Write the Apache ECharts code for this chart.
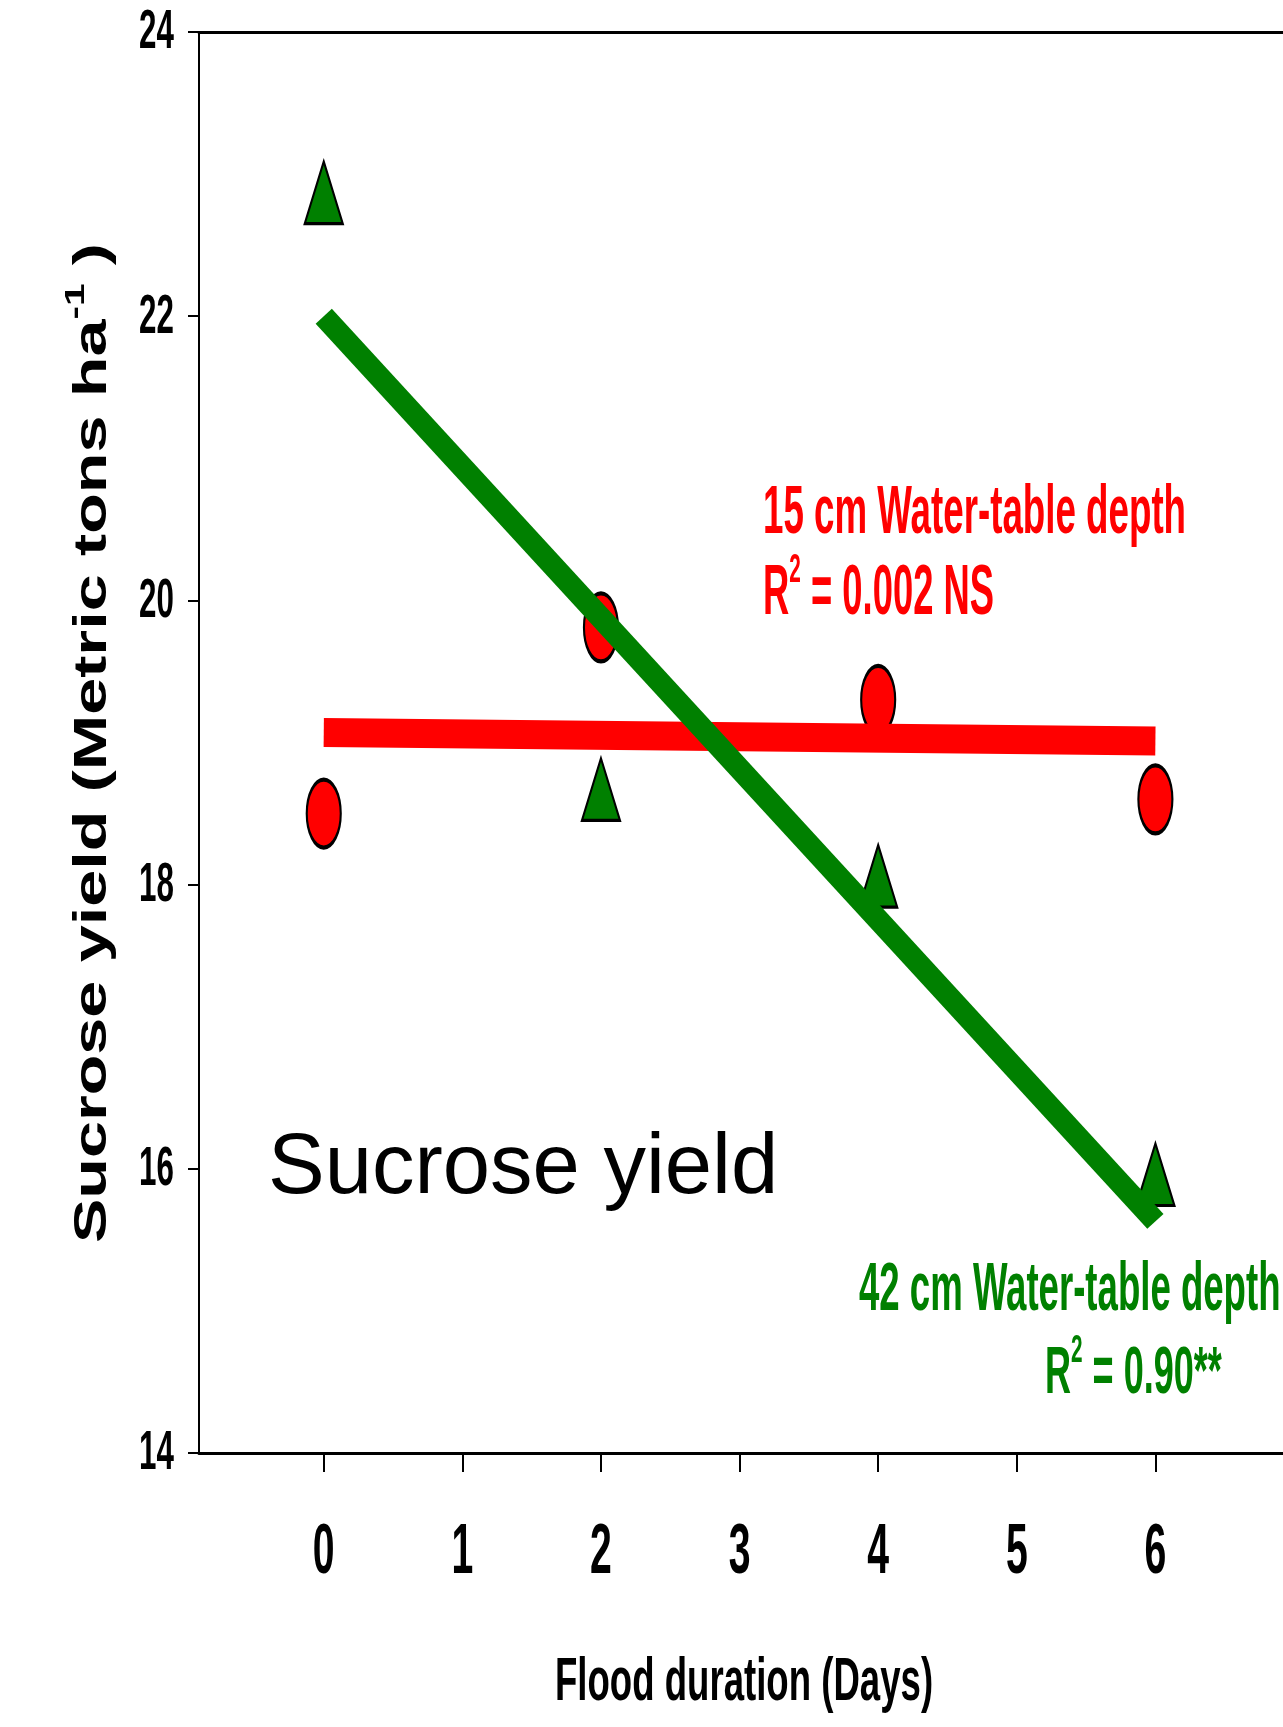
<!DOCTYPE html>
<html>
<head>
<meta charset="utf-8">
<script src="https://cdn.jsdelivr.net/npm/echarts@6/dist/echarts.min.js"></script>
<style>
  html, body { margin: 0; padding: 0; background: #ffffff; }
  #chart { width: 1283px; height: 1727px; }
</style>
</head>
<body>
<div id="chart"></div>
<script>
// Sucrose yield vs. flood duration at two water-table depths
const floodDays = [0, 2, 4, 6];
const yield15cm = [18.50, 19.81, 19.30, 18.60];   // red ellipses
const yield42cm = [22.87, 18.67, 18.06, 15.96];   // green triangles

// fitted regression lines (end points)
const fitDays = [0, 6];
const fit15cm = [19.07, 19.01];
const fit42cm = [22.00, 15.63];

const xTickValues = [0, 1, 2, 3, 4, 5, 6];
const xTickLabels = ['0', '1', '2', '3', '4', '5', '6'];
const yTickValues = [14, 16, 18, 20, 22, 24];
const yTickLabels = ['14', '16', '18', '20', '22', '24'];

const RED = '#ff0000';
const GREEN = '#008000';
const FONT = "'Liberation Sans', Arial, Helvetica, sans-serif";

const ellipsePath = 'path://M0,-1C0.5523,-1,1,-0.5523,1,0C1,0.5523,0.5523,1,0,1C-0.5523,1,-1,0.5523,-1,0C-1,-0.5523,-0.5523,-1,0,-1Z';

const pairs = (xs, ys) => xs.map((x, i) => [x, ys[i]]);

const chart = echarts.init(document.getElementById('chart'), null, { renderer: 'canvas' });

chart.setOption({
  animation: false,
  backgroundColor: '#ffffff',
  grid: { left: 199, top: 32, width: 1095, height: 1421, outerBoundsMode: 'none', containLabel: false },
  xAxis: [
    {
      type: 'value', min: -0.9, max: 7, position: 'bottom',
      axisLine: { show: true, onZero: false, lineStyle: { color: '#000', width: 3 } },
      axisTick: { show: true, inside: false, length: 19, customValues: xTickValues,
                  lineStyle: { color: '#000', width: 2 } },
      axisLabel: { show: false },
      splitLine: { show: false }
    },
    {
      type: 'value', min: -0.9, max: 7, position: 'top',
      axisLine: { show: true, onZero: false, lineStyle: { color: '#000', width: 3 } },
      axisTick: { show: false }, axisLabel: { show: false }, splitLine: { show: false }
    }
  ],
  yAxis: {
    type: 'value', min: 14, max: 24, interval: 2, position: 'left',
    axisLine: { show: true, onZero: false, lineStyle: { color: '#000', width: 2 } },
    axisTick: { show: true, inside: false, length: 11, lineStyle: { color: '#000', width: 2 } },
    axisLabel: { show: false },
    splitLine: { show: false }
  },
  series: [
    {
      name: '15 cm', type: 'scatter', z: 2,
      data: pairs(floodDays, yield15cm),
      symbol: ellipsePath, symbolSize: [34, 68],
      itemStyle: { color: RED, borderColor: '#000', borderWidth: 3, opacity: 1 }
    },
    {
      name: '42 cm', type: 'scatter', z: 2,
      data: pairs(floodDays, yield42cm),
      symbol: 'triangle', symbolSize: [38, 62],
      itemStyle: { color: GREEN, borderColor: '#000', borderWidth: 2.5, opacity: 1 }
    },
    {
      name: '15 cm fit', type: 'line', z: 3,
      data: pairs(fitDays, fit15cm),
      showSymbol: false, symbol: 'none',
      lineStyle: { color: RED, width: 29, cap: 'butt' }
    },
    {
      name: '42 cm fit', type: 'line', z: 4,
      data: pairs(fitDays, fit42cm),
      showSymbol: false, symbol: 'none',
      lineStyle: { color: GREEN, width: 22, cap: 'butt' }
    }
  ]
});

// Condensed text: bold sans squeezed horizontally
function condText(text, x, y, size, sx, color, align) {
  return {
    type: 'text', x: x, y: y, scaleX: sx, scaleY: 1, z: 10,
    style: {
      text: text, fill: color, fontSize: size, fontWeight: 'bold', fontFamily: FONT,
      textAlign: align, align: align, textVerticalAlign: 'middle', verticalAlign: 'middle'
    }
  };
}

// Text with a raised superscript in the middle: parts = [before, sup, after]
function supText(parts, x, y, size, supSize, supHeight, sx, color, align, rotation) {
  return {
    type: 'text', x: x, y: y, scaleX: sx, rotation: rotation || 0, z: 10,
    style: {
      text: '{b|' + parts[0] + '}{s|' + parts[1] + '}{b|' + parts[2] + '}',
      fill: color, fontFamily: FONT, fontWeight: 'bold', fontSize: size,
      textAlign: align, align: align, textVerticalAlign: 'middle', verticalAlign: 'middle',
      rich: {
        b: { fontSize: size, fontWeight: 'bold', fontFamily: FONT, fill: color, lineHeight: size },
        s: { fontSize: supSize, fontWeight: 'bold', fontFamily: FONT, fill: color,
             verticalAlign: 'top', height: supHeight, lineHeight: supHeight }
      }
    }
  };
}

const graphics = [];

// tick labels placed through the axis scales
xTickValues.forEach((v, i) => {
  const px = chart.convertToPixel({ xAxisIndex: 0 }, v);
  graphics.push(condText(xTickLabels[i], px, 1554, 70, 0.56, '#000', 'center'));
});
yTickValues.forEach((v, i) => {
  const py = chart.convertToPixel({ yAxisIndex: 0 }, v);
  graphics.push(condText(yTickLabels[i], 174, py + 1, 56, 0.56, '#000', 'right'));
});

// axis titles
graphics.push(condText('Flood duration (Days)', 744, 1683, 61, 0.6, '#000', 'center'));
graphics.push(supText(['Sucrose yield (Metric tons ha', '-1', ' )'], 93, 743, 46, 28, 12, 1.445, '#000', 'center', Math.PI / 2));

// panel title
graphics.push({
  type: 'text', x: 268, y: 1170, z: 10,
  style: { text: 'Sucrose yield', fill: '#000', fontSize: 85, fontFamily: FONT, fontWeight: 'normal',
           textAlign: 'left', align: 'left', textVerticalAlign: 'middle', verticalAlign: 'middle' }
});

// regression annotations
graphics.push(condText('15 cm Water-table depth', 763, 514, 68, 0.54, RED, 'left'));
graphics.push(supText(['R', '2', ' = 0.002 NS'], 763, 595, 70, 40, 22, 0.52, RED, 'left'));
graphics.push(condText('42 cm Water-table depth', 859, 1291, 68, 0.538, GREEN, 'left'));
graphics.push(supText(['R', '2', ' = 0.90**'], 1045, 1375, 66, 38, 20, 0.546, GREEN, 'left'));

chart.setOption({ graphic: graphics });
</script>
</body>
</html>
